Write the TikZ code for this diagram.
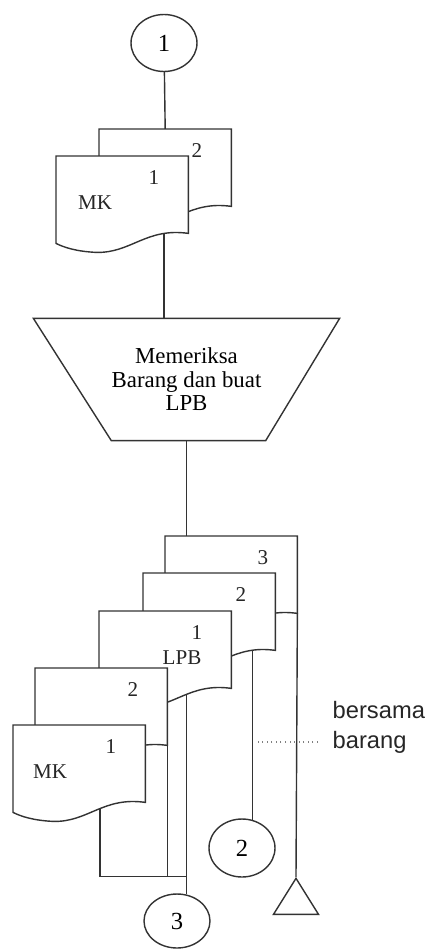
\documentclass[tikz,border=0pt]{standalone}
\usepackage{fontspec}
\setmainfont{Liberation Serif}
\newfontfamily\notefont{Liberation Sans}
\usetikzlibrary{shapes.geometric, calc, backgrounds}

\begin{document}
\begin{tikzpicture}[x=0.02cm, y=-0.02cm, line width=0.8pt]
    % styles
    \tikzstyle{connector} = [ellipse, draw=black!80, fill=white, minimum width=1.32cm, minimum height=1.14cm, inner sep=0pt, font=\fontsize{14}{14}\selectfont]
    \tikzstyle{docnode} = [rectangle, minimum width=2.62cm, minimum height=1.52cm, inner sep=0pt, anchor=north west]
    \tikzstyle{docline} = [draw=black!80, fill=white]
    \tikzstyle{doclabel} = [inner sep=0pt, font=\fontsize{12}{12}\selectfont, text=black!85]
    \tikzstyle{flow} = [draw=black!80, line width=0.8pt]

    \useasboundingbox (0,0) rectangle (431,950);

    % off-page connectors
    \node[connector] (c1) at (164,43) {1};
    \node[connector, minimum height=1.16cm] (c2) at (242,848) {2};
    \node[connector, minimum height=1.08cm] (c3) at (177,921) {3};

    % manual process
    \node[minimum width=6.1cm, minimum height=2.42cm, inner sep=0pt, align=center, font=\fontsize{13}{13.4}\selectfont] (proc) at (186.5,379.5) {Memeriksa\\Barang dan buat\\LPB};
    \draw[flow] (proc.north west) -- (proc.north east) -- ($(proc.south east)+(-74,0)$) -- ($(proc.south west)+(78,0)$) -- cycle;

    % documents, back to front
    \foreach \name/\x/\y/\num in {mk2a/99/129/2, mk1a/56/156/1, lpb3/165/536/3, lpb2/143/573/2, lpb1/99/611/1, mk2b/35/668/2, mk1b/13/725/1} {
        \node[docnode] (\name) at (\x,\y) {};
        \draw[docline] ($(\name.south west)+(0,10)$) -- (\name.north west) -- (\name.north east) -- (\name.south east)
            .. controls ($(\name.south west)+(90,-6)$) and ($(\name.south west)+(75,20)$) .. ($(\name.south west)+(40,19)$)
            .. controls ($(\name.south west)+(20,18)$) and ($(\name.south west)+(8,14)$) .. cycle;
        \node[doclabel] (\name-no) at ($(\name.north west)+(98,22)$) {\num};
    }
    \node[doclabel] (mk1a-txt) at ($(mk1a.north west)+(39,47)$) {MK};
    \node[doclabel] (lpb1-txt) at ($(lpb1.north west)+(83,47)$) {LPB};
    \node[doclabel] (mk1b-txt) at ($(mk1b.north west)+(37,47)$) {MK};

    % archive
    \node[isosceles triangle, isosceles triangle apex angle=64, shape border rotate=90, draw=black!80, fill=white, minimum size=0.72cm, inner sep=0pt, anchor=apex] (arsip) at (296,877) {};

    % note
    \node[anchor=west, align=left, inner sep=0pt, font=\notefont\fontsize{13.5}{17}\selectfont, text=black!85] (note) at (332,727) {bersama\\barang};
    \draw[dotted, gray, line width=0.6pt] ($(note.west)+(-14,15)$) -- ++(-63,0);

    % flow lines
    \begin{scope}[on background layer]
        \draw[flow] (c1) -- (mk2a.north);
        \draw[flow] (c1 |- mk1a.south) -- (c1 |- proc.north);
        \draw[flow] (proc.south) -- (proc.south |- lpb3.north);
        \draw[flow] (lpb3.south east) -- (arsip.apex);
        \draw[flow] (c2.70 |- lpb2.south) -- (c2.70);
        \coordinate (join) at ($(c3.70)+(0,-18)$);
        \draw[flow] (c3.70 |- lpb1.south) -- (c3.70);
        \draw[flow] (mk2b.south east) -- (mk2b.south east |- join);
        \draw[flow] ($(mk1b.south west)+(87,0)$) |- (join);
    \end{scope}
\end{tikzpicture}
\end{document}
